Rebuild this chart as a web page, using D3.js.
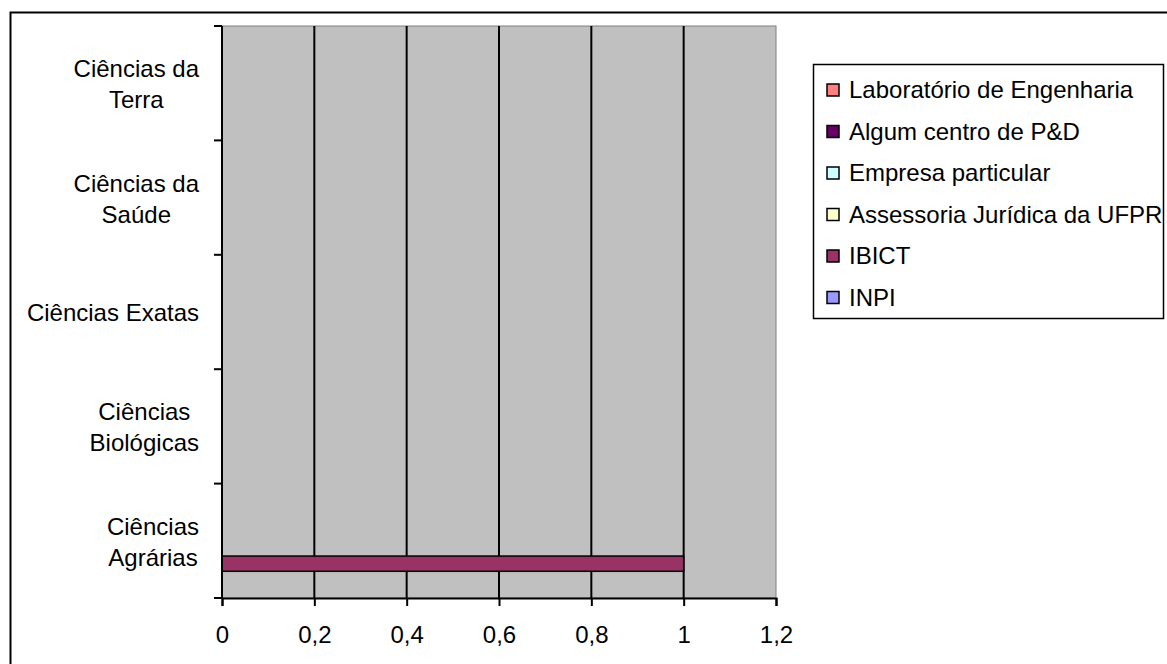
<!DOCTYPE html>
<html>
<head>
<meta charset="utf-8">
<script src="https://cdn.jsdelivr.net/npm/d3@7"></script>
<style>
  body { margin: 0; background: #fff; }
  text { font-family: Arial, "Liberation Sans", sans-serif; fill: #000; }
</style>
</head>
<body>
<div id="chart"></div>
<script>
// categories, top to bottom
var categories = ["Ciências da Terra", "Ciências da Saúde", "Ciências Exatas", "Ciências Biológicas", "Ciências Agrárias"];
// wrapped label lines
var categoryLines = [["Ciências da", "Terra"], ["Ciências da", "Saúde"], ["Ciências Exatas"], ["Ciências", "Biológicas"], ["Ciências", "Agrárias"]];
// series in legend order (top to bottom inside each band)
var series = ["Laboratório de Engenharia", "Algum centro de P&D", "Empresa particular", "Assessoria Jurídica da UFPR", "IBICT", "INPI"];
var colors = ["#FF8080", "#660066", "#CCFFFF", "#FFFFCC", "#993366", "#9999FF"];
// values per series, following categories order
var labEng    = [0, 0, 0, 0, 0];
var centroPD  = [0, 0, 0, 0, 0];
var empresa   = [0, 0, 0, 0, 0];
var assessoria= [0, 0, 0, 0, 0];
var ibict     = [0, 0, 0, 0, 1];
var inpi      = [0, 0, 0, 0, 0];
var values = [labEng, centroPD, empresa, assessoria, ibict, inpi];
var xTicks = [0, 0.2, 0.4, 0.6, 0.8, 1, 1.2];

(function() {
var W = 1167, H = 664;
var fs = "24px";
var svg = d3.select("#chart").append("svg")
    .attr("width", W)
    .attr("height", H);

// outer chart border
svg.append("rect")
    .attr("x", 10.5).attr("y", 12.5)
    .attr("width", 1170).attr("height", 680)
    .attr("fill", "none").attr("stroke", "#000").attr("stroke-width", 2);

var pLeft = 222, pRight = 776, pTop = 26, pBottom = 598;

var x = d3.scaleLinear().domain([0, 1.2]).range([pLeft, pRight]);
var y = d3.scaleBand().domain(categories).range([pTop, pBottom]);
var ys = d3.scaleBand().domain(series).range([0, y.bandwidth()]).paddingInner(0).paddingOuter(0.75);

// plot area
svg.append("rect")
    .attr("x", pLeft).attr("y", pTop)
    .attr("width", pRight - pLeft).attr("height", pBottom - pTop)
    .attr("fill", "#C0C0C0").attr("stroke", "#808080").attr("stroke-width", 1);

// gridlines
svg.append("g").selectAll("line")
    .data(xTicks.filter(function(d) { return d > 0 && d < 1.2; }))
    .enter().append("line")
    .attr("x1", function(d) { return x(d); })
    .attr("x2", function(d) { return x(d); })
    .attr("y1", pTop).attr("y2", pBottom)
    .attr("stroke", "#000").attr("stroke-width", 2);

// bars
var rows = [];
series.forEach(function(s, i) {
  categories.forEach(function(c, j) {
    rows.push({ s: s, c: c, v: values[i][j], color: colors[i] });
  });
});
svg.append("g").selectAll("rect")
    .data(rows.filter(function(d) { return d.v > 0; }))
    .enter().append("rect")
    .attr("x", x(0))
    .attr("y", function(d) { return y(d.c) + ys(d.s); })
    .attr("width", function(d) { return x(d.v) - x(0); })
    .attr("height", ys.bandwidth())
    .attr("fill", function(d) { return d.color; })
    .attr("stroke", "#000").attr("stroke-width", 1.5);

// x axis
var xAxis = svg.append("g")
    .attr("transform", "translate(0," + pBottom + ")")
    .call(d3.axisBottom(x).tickValues(xTicks).tickSizeOuter(0).tickSize(8)
      .tickFormat(function(d) { return String(d).replace(".", ","); }));
xAxis.select(".domain").attr("stroke", "#000").attr("stroke-width", 2);
xAxis.selectAll(".tick line").attr("stroke", "#000").attr("stroke-width", 2);
xAxis.selectAll(".tick text")
    .attr("y", 28).attr("dy", "0.71em")
    .style("font-size", fs).style("font-family", "Arial, 'Liberation Sans', sans-serif");

// y axis line and ticks at band boundaries
svg.append("line")
    .attr("x1", pLeft).attr("x2", pLeft)
    .attr("y1", pTop).attr("y2", pBottom + 1)
    .attr("stroke", "#000").attr("stroke-width", 2);
var bounds = categories.map(function(c) { return y(c); }).concat([pBottom]);
svg.append("g").selectAll("line")
    .data(bounds)
    .enter().append("line")
    .attr("x1", pLeft - 8).attr("x2", pLeft)
    .attr("y1", function(d) { return d; }).attr("y2", function(d) { return d; })
    .attr("stroke", "#000").attr("stroke-width", 2);

// category labels: block right-aligned, lines centred inside block
var lineH = 31, labelRight = 199;
var lab = svg.append("g").selectAll("text")
    .data(categories)
    .enter().append("text")
    .attr("text-anchor", "middle")
    .style("font-size", fs);
lab.each(function(c, i) {
  var lines = categoryLines[i];
  var cy = y(c) + y.bandwidth() / 2 + 1;
  var t = d3.select(this);
  var spans = lines.map(function(l, k) {
    return t.append("tspan")
      .attr("y", cy + (k - (lines.length - 1) / 2) * lineH)
      .attr("dy", "0.35em")
      .text(l);
  });
  var maxW = d3.max(spans, function(s) { return s.node().getComputedTextLength(); });
  spans.forEach(function(s) { s.attr("x", labelRight - maxW / 2); });
});

// legend
var lg = svg.append("g");
lg.append("rect")
    .attr("x", 813.5).attr("y", 64.5)
    .attr("width", 350).attr("height", 254)
    .attr("fill", "#fff").attr("stroke", "#000").attr("stroke-width", 1.5);
var item = lg.selectAll("g.item")
    .data(series)
    .enter().append("g")
    .attr("class", "item")
    .attr("transform", function(d, i) { return "translate(827," + (90 + i * 41.5) + ")"; });
item.append("rect")
    .attr("x", 0).attr("y", -6)
    .attr("width", 12).attr("height", 12)
    .attr("fill", function(d, i) { return colors[i]; })
    .attr("stroke", "#000").attr("stroke-width", 1.5);
item.append("text")
    .attr("x", 22).attr("dy", "0.35em")
    .style("font-size", fs)
    .text(function(d) { return d; });
})();
</script>
</body>
</html>
